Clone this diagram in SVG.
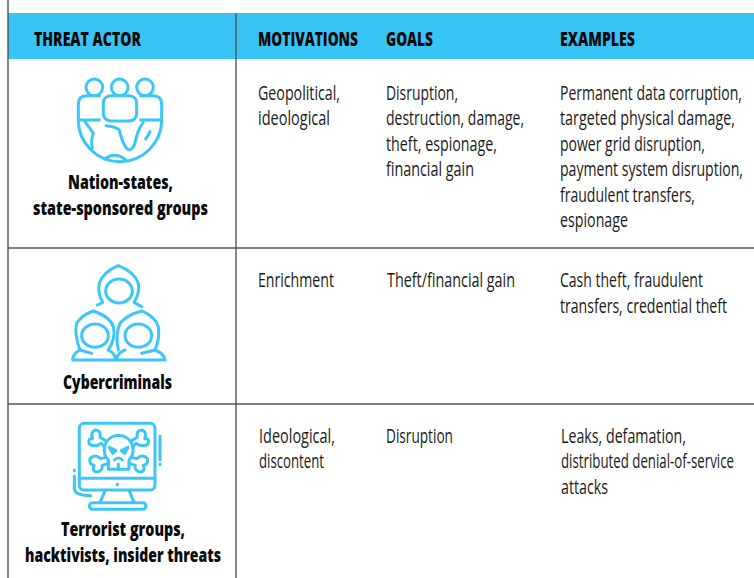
<svg xmlns="http://www.w3.org/2000/svg" width="754" height="578" viewBox="0 0 754 578">
<style>
text{font-family:"Open Sans","Liberation Sans",sans-serif;font-size:20px;fill:#1a1a1a}
.h,.b{font-weight:800;fill:#0a0a0a}
.i{fill:none;stroke:#3cc6f5;stroke-width:9;stroke-linecap:round;stroke-linejoin:round}
.r{stroke:#555;stroke-width:1.4;fill:none}
</style>
<rect width="754" height="578" fill="#fff"/>
<rect x="8" y="13" width="746" height="46" fill="#38c4f5"/>
<g id="connectors">
<path class="r" d="M8 0V578M236 13V578M8 248H754M8 404H754"/>
</g>
<g id="header">
<text class="h" transform="translate(34 45.5) scale(.72 1)" textLength="148.6" lengthAdjust="spacingAndGlyphs">THREAT ACTOR</text>
<text class="h" transform="translate(258 45.5) scale(.72 1)" textLength="138.9" lengthAdjust="spacingAndGlyphs">MOTIVATIONS</text>
<text class="h" transform="translate(386 45.5) scale(.72 1)" textLength="65.3" lengthAdjust="spacingAndGlyphs">GOALS</text>
<text class="h" transform="translate(560 45.5) scale(.72 1)" textLength="104.2" lengthAdjust="spacingAndGlyphs">EXAMPLES</text>
</g>
<g id="nation-states">
<g class="i" transform="translate(60 65) scale(.3333)">
<circle cx="103" cy="67" r="25"/><circle cx="179" cy="67" r="25"/><circle cx="255" cy="67" r="25"/>
<path d="M118 92H80Q55 92 55 118V165H118"/>
<path d="M242 92H280Q305 92 305 118V165H242"/>
<rect x="130" y="92" width="100" height="76" rx="22"/>
<path d="M55 165A125 125 0 0 0 305 165"/>
<path d="M75 170Q90 190 100 205Q92 225 97 250"/>
<path d="M138 182Q170 185 178 195Q185 230 200 250Q215 262 225 235Q232 195 250 172"/>
<path d="M257 222Q265 212 270 200"/>
<path d="M135 282Q165 258 198 285"/>
</g>
<text class="b" transform="translate(68 188.5) scale(.72 1)" textLength="145.8" lengthAdjust="spacingAndGlyphs">Nation-states,</text>
<text class="b" transform="translate(33 214.5) scale(.72 1)" textLength="243" lengthAdjust="spacingAndGlyphs">state-sponsored groups</text>
<text transform="translate(258 99.5) scale(.74 1)" textLength="110.8" lengthAdjust="spacingAndGlyphs">Geopolitical,</text>
<text transform="translate(258 124.5) scale(.74 1)" textLength="97.3" lengthAdjust="spacingAndGlyphs">ideological</text>
<text transform="translate(386 99.5) scale(.74 1)" textLength="97.3" lengthAdjust="spacingAndGlyphs">Disruption,</text>
<text transform="translate(386 124.5) scale(.74 1)" textLength="186.5" lengthAdjust="spacingAndGlyphs">destruction, damage,</text>
<text transform="translate(386 150.5) scale(.74 1)" textLength="150" lengthAdjust="spacingAndGlyphs">theft, espionage,</text>
<text transform="translate(386 175.5) scale(.74 1)" textLength="118.9" lengthAdjust="spacingAndGlyphs">financial gain</text>
<text transform="translate(560 99.5) scale(.74 1)" textLength="245.9" lengthAdjust="spacingAndGlyphs">Permanent data corruption,</text>
<text transform="translate(560 124.5) scale(.74 1)" textLength="236.5" lengthAdjust="spacingAndGlyphs">targeted physical damage,</text>
<text transform="translate(560 150.5) scale(.74 1)" textLength="195.9" lengthAdjust="spacingAndGlyphs">power grid disruption,</text>
<text transform="translate(560 175.5) scale(.74 1)" textLength="247.3" lengthAdjust="spacingAndGlyphs">payment system disruption,</text>
<text transform="translate(560 201.5) scale(.74 1)" textLength="182.4" lengthAdjust="spacingAndGlyphs">fraudulent transfers,</text>
<text transform="translate(560 226.5) scale(.74 1)" textLength="91.9" lengthAdjust="spacingAndGlyphs">espionage</text>
</g>
<g id="cybercriminals">
<g class="i" transform="translate(60 255) scale(.3333)">
<path d="M112 150L128 142Q112 115 118 85Q130 50 175 32Q222 50 235 85Q240 115 222 142L245 155"/>
<ellipse cx="177" cy="108" rx="40" ry="36"/>
<path d="M60 285Q42 235 50 205Q65 180 100 168Q150 185 160 215Q168 250 145 285"/>
<ellipse cx="105" cy="242" rx="40" ry="35"/>
<path d="M175 285Q165 240 180 205Q200 180 245 168Q285 185 295 215Q300 250 285 285"/>
<ellipse cx="235" cy="242" rx="40" ry="35"/>
<path d="M38 315Q38 295 60 285L95 295M145 285Q165 295 168 315M168 315Q172 295 195 285M245 295L285 285Q312 295 315 315H38"/>
</g>
<text class="b" transform="translate(63 388.5) scale(.72 1)" textLength="151.4" lengthAdjust="spacingAndGlyphs">Cybercriminals</text>
<text transform="translate(258 286.5) scale(.74 1)" textLength="102.7" lengthAdjust="spacingAndGlyphs">Enrichment</text>
<text transform="translate(387 286.5) scale(.74 1)" textLength="173" lengthAdjust="spacingAndGlyphs">Theft/financial gain</text>
<text transform="translate(560 286.5) scale(.74 1)" textLength="193.2" lengthAdjust="spacingAndGlyphs">Cash theft, fraudulent</text>
<text transform="translate(560 312.5) scale(.74 1)" textLength="225.7" lengthAdjust="spacingAndGlyphs">transfers, credential theft</text>
</g>
<g id="terrorists">
<g class="i" transform="translate(60 410) scale(.3333)">
<rect x="58" y="40" width="227" height="200" rx="14"/>
<path d="M58 205H285"/>
<path d="M300 78V150M300 162V164M43 180V182M43 198V235Q43 257 92 257"/>
<path d="M172 222V224"/>
<path d="M135 242L120 278M208 242L222 278"/>
<rect x="88" y="278" width="170" height="20" rx="10"/>
<path d="M145 178V150Q130 135 133 110Q143 78 175 76Q209 78 219 110Q222 135 207 150V178Z"/>
<path d="M148 112L168 122L158 130ZM204 112L184 122L194 130Z"/>
<path d="M163 150Q175 138 187 150M175 162V178"/>
<path d="M137 92L120 82Q124 60 106 60Q90 66 98 86Q82 84 88 102Q104 114 124 100L135 112"/>
<path d="M215 92L232 82Q228 60 246 60Q262 66 254 86Q270 84 264 102Q248 114 228 100L217 112"/>
<path d="M137 142L122 146Q104 130 90 146Q86 164 102 166Q94 184 112 186Q130 182 126 166L145 160"/>
<path d="M215 142L230 146Q248 130 262 146Q266 164 250 166Q258 184 240 186Q222 182 226 166L207 160"/>
</g>
<text class="b" transform="translate(61 535.5) scale(.72 1)" textLength="172.2" lengthAdjust="spacingAndGlyphs">Terrorist groups,</text>
<text class="b" transform="translate(25 561.5) scale(.72 1)" textLength="272.2" lengthAdjust="spacingAndGlyphs">hacktivists, insider threats</text>
<text transform="translate(259 442.5) scale(.74 1)" textLength="102.7" lengthAdjust="spacingAndGlyphs">Ideological,</text>
<text transform="translate(259 467.5) scale(.74 1)" textLength="87.8" lengthAdjust="spacingAndGlyphs">discontent</text>
<text transform="translate(386 442.5) scale(.74 1)" textLength="90.5" lengthAdjust="spacingAndGlyphs">Disruption</text>
<text transform="translate(561 442.5) scale(.74 1)" textLength="168.9" lengthAdjust="spacingAndGlyphs">Leaks, defamation,</text>
<text transform="translate(561 467.5) scale(.74 1)" textLength="233.8" lengthAdjust="spacingAndGlyphs">distributed denial-of-service</text>
<text transform="translate(561 493.5) scale(.74 1)" textLength="63.5" lengthAdjust="spacingAndGlyphs">attacks</text>
</g>
</svg>
